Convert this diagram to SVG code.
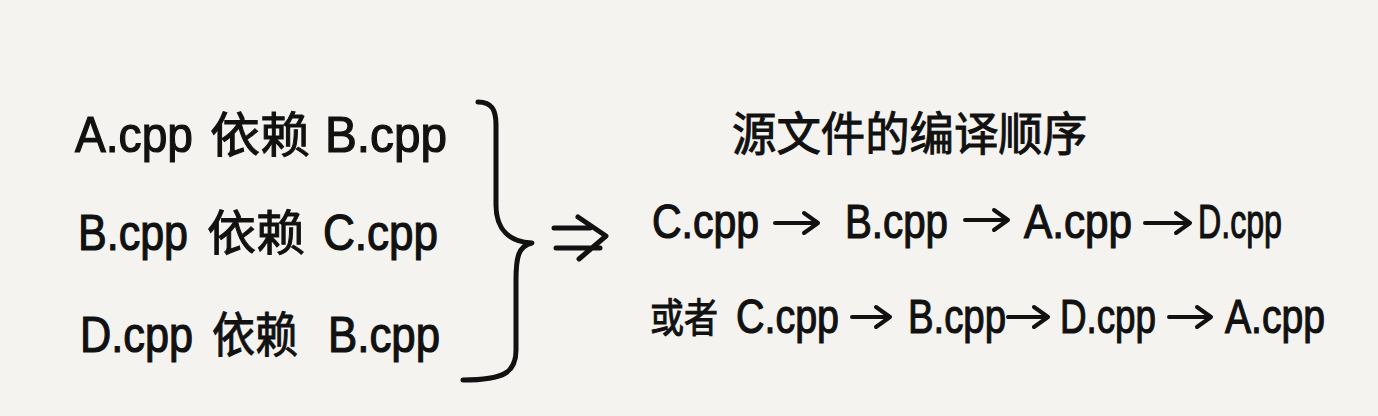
<svg xmlns="http://www.w3.org/2000/svg" width="1378" height="416" viewBox="0 0 1378 416">
<style>
.t{font-family:"Liberation Sans","Noto Sans CJK SC",sans-serif;fill:#111;stroke:#111;stroke-width:1.2}
.l{font-size:50px}
.r{font-size:48px}
.c{font-family:"Noto Sans CJK SC",sans-serif;font-size:48px;fill:#111;stroke:#111;stroke-width:1}
.ln{fill:none;stroke:#111;stroke-width:5;stroke-linecap:round;stroke-linejoin:round}
.ar{fill:none;stroke:#111;stroke-width:4;stroke-linecap:round;stroke-linejoin:round}
</style>
<rect width="1378" height="416" fill="#f4f3ef"/>
<g id="deps">
<text class="t l" x="75" y="152" textLength="118" lengthAdjust="spacingAndGlyphs">A.cpp</text>
<text class="c" x="210" y="152" textLength="100" lengthAdjust="spacingAndGlyphs">依赖</text>
<text class="t l" x="325" y="152" textLength="122" lengthAdjust="spacingAndGlyphs">B.cpp</text>
<text class="t l" x="78" y="250" textLength="110" lengthAdjust="spacingAndGlyphs">B.cpp</text>
<text class="c" x="207" y="250" textLength="98" lengthAdjust="spacingAndGlyphs">依赖</text>
<text class="t l" x="323" y="250" textLength="115" lengthAdjust="spacingAndGlyphs">C.cpp</text>
<text class="t l" x="80" y="352" textLength="113" lengthAdjust="spacingAndGlyphs">D.cpp</text>
<text class="c" x="212" y="352" textLength="86" lengthAdjust="spacingAndGlyphs">依赖</text>
<text class="t l" x="328" y="352" textLength="112" lengthAdjust="spacingAndGlyphs">B.cpp</text>
</g>
<g id="brace">
<path class="ln" d="M478,102 C492,102 496,110 496,125 L496,205 C496,230 510,242 532,243 C518,246 516,258 516,280 L516,350 C516,372 505,380 463,380"/>
</g>
<g id="implies">
<path class="ln" d="M554,228 L590,228 M556,248 L600,248 M578,217 L606,236 L579,259"/>
</g>
<g id="order">
<text class="c" x="732" y="150" textLength="355" lengthAdjust="spacingAndGlyphs" style="font-size:46px">源文件的编译顺序</text>
<text class="t r" x="652" y="238" textLength="107" lengthAdjust="spacingAndGlyphs">C.cpp</text>
<text class="t r" x="845" y="238" textLength="103" lengthAdjust="spacingAndGlyphs">B.cpp</text>
<text class="t r" x="1024" y="238" textLength="108" lengthAdjust="spacingAndGlyphs">A.cpp</text>
<text class="t r" x="1198" y="238" textLength="84" lengthAdjust="spacingAndGlyphs">D.cpp</text>
<text class="c" x="650" y="332" textLength="68" lengthAdjust="spacingAndGlyphs" style="font-size:40px">或者</text>
<text class="t r" x="736" y="333" textLength="103" lengthAdjust="spacingAndGlyphs">C.cpp</text>
<text class="t r" x="908" y="333" textLength="98" lengthAdjust="spacingAndGlyphs">B.cpp</text>
<text class="t r" x="1060" y="333" textLength="96" lengthAdjust="spacingAndGlyphs">D.cpp</text>
<text class="t r" x="1225" y="333" textLength="100" lengthAdjust="spacingAndGlyphs">A.cpp</text>
</g>
<g id="connectors">
<path class="ar" d="M775,223 L818,223 M804,213 L818,223 L804,233"/>
<path class="ar" d="M965,220 L1008,220 M994,210 L1008,220 L994,230"/>
<path class="ar" d="M1145,223 L1190,223 M1176,213 L1190,223 L1176,233"/>
<path class="ar" d="M852,317 L890,317 M876,307 L890,317 L876,327"/>
<path class="ar" d="M1008,317 L1048,317 M1034,307 L1048,317 L1034,327"/>
<path class="ar" d="M1169,317 L1211,317 M1197,307 L1211,317 L1197,327"/>
</g>
</svg>
